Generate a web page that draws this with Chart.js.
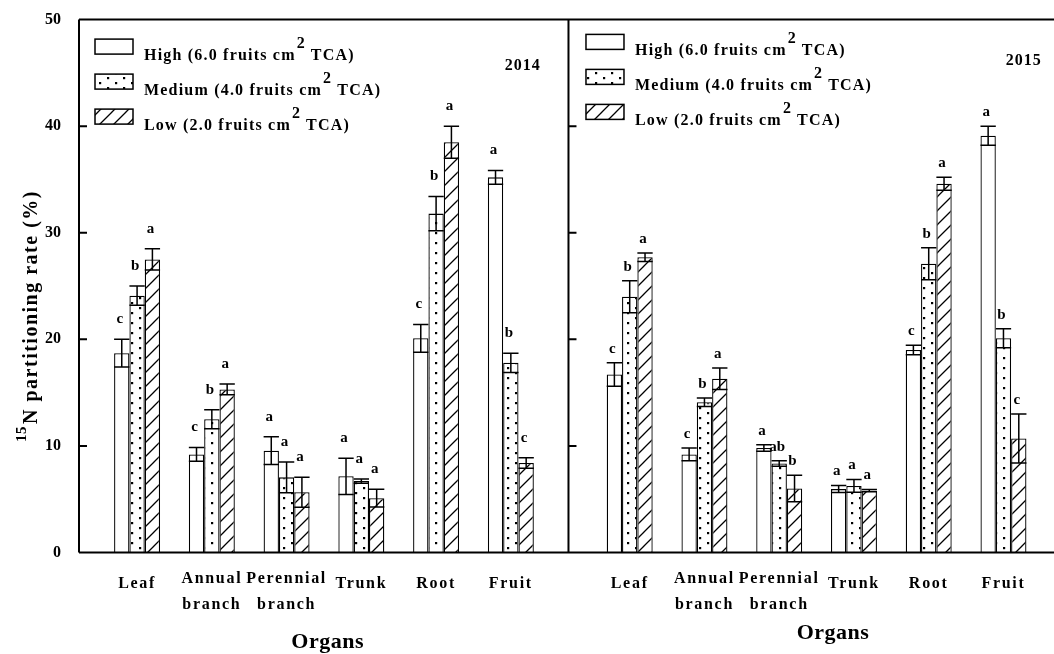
<!DOCTYPE html>
<html>
<head>
<meta charset="utf-8">
<script src="https://cdn.jsdelivr.net/npm/chart.js@4.4.1/dist/chart.umd.min.js"></script>
<style>
  html, body { margin: 0; padding: 0; background: #fff; }
  #wrap { width: 1054px; height: 654px; }
</style>
</head>
<body>
<div id="wrap"><canvas id="partitionChart" width="1054" height="654"></canvas></div>
<script>
// categories / tick labels
const organs = ["Leaf", "Annual\nbranch", "Perennial\nbranch", "Trunk", "Root", "Fruit"];
const years = ["2014", "2015"];
const seriesNames = ["High (6.0 fruits cm", "Medium (4.0 fruits cm", "Low (2.0 fruits cm"];
const yTicks = [0, 10, 20, 30, 40, 50];

// 2014
const high2014 = [18.7, 9.2, 9.55, 7.15, 20.1, 35.2];
const high2014Err = [1.3, 0.65, 1.3, 1.7, 1.3, 0.65];
const high2014Letters = ["c", "c", "a", "a", "c", "a"];
const medium2014 = [24.1, 12.5, 7.05, 6.7, 31.8, 17.8];
const medium2014Err = [0.9, 0.9, 1.45, 0.2, 1.6, 0.9];
const medium2014Letters = ["b", "b", "a", "a", "b", "b"];
const low2014 = [27.5, 15.3, 5.65, 5.1, 38.5, 8.4];
const low2014Err = [1.0, 0.5, 1.4, 0.84, 1.5, 0.5];
const low2014Letters = ["a", "a", "a", "a", "a", "c"];

// 2015
const high2015 = [16.7, 9.2, 9.8, 5.95, 19.0, 39.1];
const high2015Err = [1.1, 0.6, 0.3, 0.33, 0.45, 0.9];
const high2015Letters = ["c", "c", "a", "a", "c", "a"];
const medium2015 = [24.0, 14.1, 8.35, 6.25, 27.1, 20.1];
const medium2015Err = [1.5, 0.4, 0.25, 0.6, 1.5, 0.9];
const medium2015Letters = ["b", "b", "ab", "a", "b", "b"];
const low2015 = [27.7, 16.3, 6.0, 5.8, 34.6, 10.7];
const low2015Err = [0.4, 1.0, 1.25, 0.1, 0.6, 2.3];
const low2015Letters = ["a", "a", "b", "a", "a", "c"];

// layout of the two year panels on one linear x scale
const panels = [
  { offset: 0, titleAt: 2.55, yearAt: 5.16, legendDx: 16, legendDy: 19.5, letterGap: 20 },
  { offset: 6.59, titleAt: 2.72, yearAt: 5.27, legendDx: 17.5, legendDy: 14.8, letterGap: 14 },
];
const dividerAt = 5.771;
const FONT = "'Liberation Serif', 'Times New Roman', serif";

// fill patterns
function dotPattern() {
  const c = document.createElement("canvas");
  c.width = 16; c.height = 10;
  const g = c.getContext("2d");
  g.fillStyle = "#fff"; g.fillRect(0, 0, 16, 10);
  g.fillStyle = "#000";
  g.fillRect(3, 2, 2.2, 2.2);
  g.fillRect(11, 7, 2.2, 2.2);
  return g.createPattern(c, "repeat");
}
function hatchPattern() {
  const c = document.createElement("canvas");
  c.width = 14; c.height = 14;
  const g = c.getContext("2d");
  g.fillStyle = "#fff"; g.fillRect(0, 0, 14, 14);
  g.strokeStyle = "#000"; g.lineWidth = 1.3;
  g.beginPath();
  g.moveTo(0, 14); g.lineTo(14, 0);
  g.moveTo(-7, 7); g.lineTo(7, -7);
  g.moveTo(7, 21); g.lineTo(21, 7);
  g.stroke();
  return g.createPattern(c, "repeat");
}
const fills = ["#ffffff", dotPattern(), hatchPattern()];

function points(a, b) {
  return a.map((v, i) => ({ x: i + panels[0].offset, y: v }))
    .concat(b.map((v, i) => ({ x: i + panels[1].offset, y: v })));
}
const errors = [high2014Err.concat(high2015Err), medium2014Err.concat(medium2015Err), low2014Err.concat(low2015Err)];
const letters = [high2014Letters.concat(high2015Letters), medium2014Letters.concat(medium2015Letters), low2014Letters.concat(low2015Letters)];

// frame, error bars, significance letters, labels and legend
const decorations = {
  id: "decorations",
  afterDatasetsDraw(chart) {
    const { ctx, chartArea: a, scales: { x, y } } = chart;
    ctx.save();
    ctx.strokeStyle = "#000";
    ctx.fillStyle = "#000";
    ctx.lineWidth = 1.5;
    // error bars
    chart.data.datasets.forEach((ds, di) => {
      const meta = chart.getDatasetMeta(di);
      meta.data.forEach((bar, j) => {
        const v = ds.data[j].y, e = errors[di][j];
        const top = y.getPixelForValue(v + e), bot = y.getPixelForValue(v - e);
        const half = bar.width / 2;
        ctx.beginPath();
        ctx.moveTo(bar.x, top); ctx.lineTo(bar.x, bot);
        ctx.moveTo(bar.x - half, top); ctx.lineTo(bar.x + half, top);
        ctx.moveTo(bar.x - half, bot); ctx.lineTo(bar.x + half, bot);
        ctx.stroke();
        const p = panels[j < organs.length ? 0 : 1];
        ctx.font = "bold 15px " + FONT;
        ctx.textAlign = "center";
        ctx.textBaseline = "middle";
        ctx.fillText(letters[di][j], bar.x - 2, top - p.letterGap);
      });
    });
    // frame
    const xd = x.getPixelForValue(dividerAt);
    ctx.lineWidth = 2;
    ctx.beginPath();
    ctx.moveTo(a.left, a.top); ctx.lineTo(a.right, a.top);
    ctx.moveTo(a.left, a.top); ctx.lineTo(a.left, a.bottom);
    ctx.moveTo(a.left, a.bottom); ctx.lineTo(a.right, a.bottom);
    ctx.moveTo(xd, a.top); ctx.lineTo(xd, a.bottom);
    yTicks.forEach(t => {
      const py = y.getPixelForValue(t);
      ctx.moveTo(a.left, py); ctx.lineTo(a.left + 8, py);
      ctx.moveTo(xd, py); ctx.lineTo(xd + 8, py);
    });
    ctx.stroke();
    ctx.restore();
  },
  afterDraw(chart) {
    const { ctx, chartArea: a, scales: { x, y } } = chart;
    const xd = x.getPixelForValue(dividerAt);
    ctx.save();
    ctx.fillStyle = "#000";
    ctx.strokeStyle = "#000";
    ctx.textBaseline = "middle";
    panels.forEach((p, pi) => {
      // organ labels
      ctx.font = "bold 16px " + FONT;
      ctx.letterSpacing = "1.7px";
      ctx.textAlign = "center";
      organs.forEach((name, i) => {
        const px = x.getPixelForValue(i + p.offset);
        const lines = name.split("\n");
        if (lines.length === 1) {
          ctx.fillText(lines[0], px, a.bottom + 31.5);
        } else {
          ctx.fillText(lines[0], px, a.bottom + 26.5);
          ctx.fillText(lines[1], px, a.bottom + 52.5);
        }
      });
      // axis title
      ctx.font = "bold 22px " + FONT;
      ctx.letterSpacing = "0.5px";
      ctx.fillText("Organs", x.getPixelForValue(p.offset + p.titleAt), pi === 0 ? 642 : 633);
      // year
      ctx.font = "bold 16px " + FONT;
      ctx.letterSpacing = "1px";
      ctx.fillText(years[pi], x.getPixelForValue(p.offset + p.yearAt), a.top + (pi === 0 ? 46 : 41));
      // legend
      const left = (pi === 0 ? a.left : xd) + p.legendDx;
      ctx.textAlign = "left";
      ctx.textBaseline = "alphabetic";
      seriesNames.forEach((s, k) => {
        const top = a.top + p.legendDy + k * 35;
        ctx.fillStyle = fills[k];
        ctx.fillRect(left, top, 38, 15);
        ctx.lineWidth = 1.5;
        ctx.strokeRect(left, top, 38, 15);
        ctx.fillStyle = "#000";
        ctx.font = "bold 16px " + FONT;
        ctx.letterSpacing = "1.2px";
        const tx = left + 49, base = top + 20.5;
        ctx.fillText(s, tx, base);
        let w = ctx.measureText(s).width;
        ctx.fillText("2", tx + w + 1, base - 12);
        w += ctx.measureText("2").width + 6;
        ctx.fillText("TCA)", tx + w, base);
      });
      ctx.textBaseline = "middle";
    });
    // y title with superscript
    ctx.translate(37, 316);
    ctx.rotate(-Math.PI / 2);
    ctx.textAlign = "left";
    ctx.textBaseline = "alphabetic";
    ctx.letterSpacing = "1.5px";
    ctx.font = "bold 15px " + FONT;
    const supW = ctx.measureText("15").width;
    ctx.font = "bold 20px " + FONT;
    const main = "N partitioning rate (%)";
    const mainW = ctx.measureText(main).width;
    const start = -(supW + mainW) / 2;
    ctx.fillText(main, start + supW, 0);
    ctx.font = "bold 15px " + FONT;
    ctx.letterSpacing = "0.5px";
    ctx.fillText("15", start, -11);
    ctx.restore();
  },
};

new Chart(document.getElementById("partitionChart"), {
  type: "bar",
  data: {
    datasets: [
      { label: "High", data: points(high2014, high2015), backgroundColor: fills[0] },
      { label: "Medium", data: points(medium2014, medium2015), backgroundColor: fills[1] },
      { label: "Low", data: points(low2014, low2015), backgroundColor: fills[2] },
    ],
  },
  options: {
    responsive: false,
    animation: false,
    devicePixelRatio: 1,
    layout: { padding: { top: 19.5, right: 0, bottom: 0, left: 0 } },
    datasets: {
      bar: {
        borderColor: "#000",
        borderWidth: 1.3,
        categoryPercentage: 0.615,
        barPercentage: 1.0,
      },
    },
    scales: {
      x: {
        type: "linear",
        offset: false,
        min: -0.777,
        max: 12.266,
        afterBuildTicks: (scale) => {
          scale.ticks = panels.flatMap(p => organs.map((_, i) => ({ value: i + p.offset })));
        },
        afterFit: (scale) => { scale.height = 101.5; },
        ticks: { display: false },
        grid: { display: false },
        border: { display: false },
      },
      y: {
        min: 0,
        max: 50,
        afterBuildTicks: (scale) => { scale.ticks = yTicks.map(v => ({ value: v })); },
        afterFit: (scale) => { scale.width = 79; },
        ticks: {
          color: "#000",
          padding: 10,
          font: { family: FONT, size: 16, weight: "bold" },
        },
        grid: { display: false },
        border: { display: false },
      },
    },
    plugins: {
      legend: { display: false },
      tooltip: { enabled: false },
    },
  },
  plugins: [decorations],
});
</script>
</body>
</html>
